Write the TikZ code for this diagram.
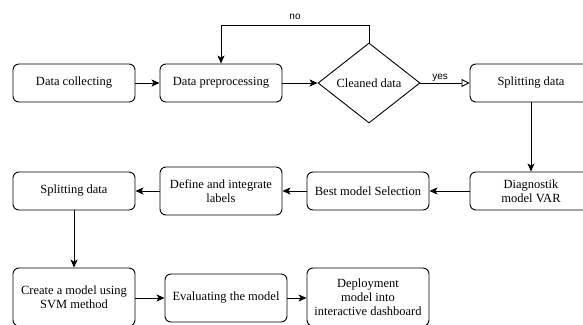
\documentclass[tikz,border=0pt]{standalone}
\usepackage{fontspec}
\setmainfont{Liberation Serif}
\newfontfamily\lblfont{Liberation Sans}
\usetikzlibrary{arrows.meta,shapes.geometric}
\begin{document}
\begin{tikzpicture}[x=1pt,y=-1pt,
  box/.style={draw, line width=0.9pt, rounded corners=6pt, align=center,
    font=\fontsize{12.5}{14}\selectfont, inner sep=0pt},
  dia/.style={draw, line width=0.9pt, diamond, aspect=1.28, minimum width=102pt, minimum height=80pt,
    inner sep=0pt, font=\fontsize{12.5}{14}\selectfont},
  conn/.style={line width=0.9pt, -{Stealth[length=8pt,width=7pt,inset=2pt]}},
  openconn/.style={line width=0.9pt, -{Triangle[open,length=8pt,width=8pt]}},
  lbl/.style={font=\lblfont\fontsize{10}{12}\selectfont, inner sep=1pt}]
\useasboundingbox (0,0) rectangle (583,324);
\clip (0,0) rectangle (583,324);
% row 1
\node[box, minimum width=122pt, minimum height=38pt] (collect) at (74,83) {Data collecting};
\node[box, minimum width=122pt, minimum height=38pt] (prep) at (221,83) {Data preprocessing};
\node[dia] (clean) at (369,83) {Cleaned data};
\node[box, minimum width=122pt, minimum height=38pt] (split1) at (531,83) {Splitting data};
% row 2
\node[box, minimum width=122pt, minimum height=38pt] (diag) at (531,191) {Diagnostik\\model VAR};
\node[box, minimum width=122pt, minimum height=38pt] (best) at (368,191) {Best model Selection};
\node[box, minimum width=122pt, minimum height=48pt] (define) at (221,191) {Define and integrate\\labels};
\node[box, minimum width=122pt, minimum height=38pt] (split2) at (74,191) {Splitting data};
% row 3
\node[box, minimum width=122pt, minimum height=58pt] (svm) at (74,297) {Create a model using\\SVM method};
\node[box, minimum width=122pt, minimum height=48pt] (eval) at (226,298) {Evaluating the model};
\node[box, minimum width=122pt, minimum height=58pt] (deploy) at (368,297) {Deployment\\model into\\interactive dashboard};
% connectors
\coordinate (loopR) at (369,25);
\coordinate (loopL) at (221,25);
\draw[conn] (collect) -- (prep);
\draw[conn] (prep) -- (clean);
\draw[openconn] (clean) -- node[lbl, above, pos=0.4] {yes} (split1);
\draw[conn] (clean.north) -- (loopR) -- node[lbl, above, pos=0.5, yshift=4pt] {no} (loopL) -- (prep.north);
\draw[conn] (split1) -- (diag);
\draw[conn] (diag) -- (best);
\draw[conn] (best) -- (define);
\draw[conn] (define) -- (split2);
\draw[conn] (split2) -- (svm);
\draw[conn] (svm.east |- eval.west) -- (eval.west);
\draw[conn] (eval) -- (deploy.west |- eval.east);
\end{tikzpicture}
\end{document}
